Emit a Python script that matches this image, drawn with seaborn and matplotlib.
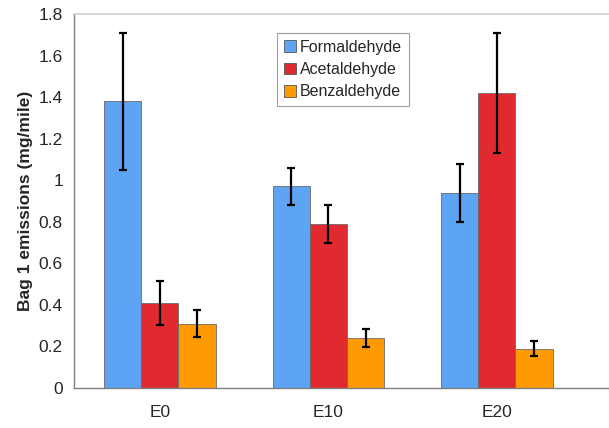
import seaborn as sns
import matplotlib.pyplot as plt
import pandas as pd

# Chart data
blends = ['E0', 'E10', 'E20']
compounds = ['Formaldehyde', 'Acetaldehyde', 'Benzaldehyde']
formaldehyde = [1.38, 0.97, 0.94]
acetaldehyde = [0.41, 0.79, 1.42]
benzaldehyde = [0.31, 0.24, 0.19]
formaldehyde_err = [0.33, 0.09, 0.14]
acetaldehyde_err = [0.105, 0.09, 0.29]
benzaldehyde_err = [0.065, 0.045, 0.035]
yticks = [0, 0.2, 0.4, 0.6, 0.8, 1, 1.2, 1.4, 1.6, 1.8]

colors = ['#5DA4F4', '#E12A30', '#FF9A05']

values = [formaldehyde, acetaldehyde, benzaldehyde]
errors = [formaldehyde_err, acetaldehyde_err, benzaldehyde_err]
df = pd.DataFrame({
    'Blend': blends * 3,
    'Compound': [c for c in compounds for _ in blends],
    'Value': [v for vals in values for v in vals],
})

sns.set_style('white')
plt.rcParams['font.family'] = ['Liberation Sans', 'DejaVu Sans']

fig = plt.figure(figsize=(6.09, 4.28), dpi=100)
ax = fig.add_axes([0.1215, 0.0935, 0.8785, 0.8738])

sns.barplot(data=df, x='Blend', y='Value', hue='Compound', order=blends,
            hue_order=compounds, palette=colors, width=0.66, gap=0,
            edgecolor='#6a6a6a', linewidth=0.6, errorbar=None, ax=ax,
            saturation=1)

# error bars centred on each bar
for cont, err in zip(ax.containers, errors):
    xs = [p.get_x() + p.get_width() / 2 for p in cont.patches]
    hs = [p.get_height() for p in cont.patches]
    ax.errorbar(xs, hs, yerr=err, fmt='none', ecolor='black',
                elinewidth=1.6, capsize=3, capthick=1.6, zorder=5)

ax.set_xlim(-0.51, 2.665)
ax.set_ylim(0, 1.8)
ax.set_yticks(yticks)
ax.set_yticklabels([f'{t:g}' for t in yticks])
ax.set_xticks([0, 1, 2])
ax.set_xticklabels(blends)
ax.set_xticks([-0.5, 0.5, 1.5], minor=True)
ax.tick_params(axis='x', which='major', length=0, pad=12, labelsize=12.5)
ax.tick_params(axis='x', which='minor', length=5, width=0.8, color='#888888', direction='out')
ax.tick_params(axis='y', length=5, width=0.8, color='#888888', direction='out', labelsize=12.5, pad=3)
ax.set_xlabel('')
ax.set_ylabel('Bag 1 emissions (mg/mile)', fontsize=12.5, fontweight='bold', labelpad=4)

for side in ['left', 'bottom']:
    ax.spines[side].set_color('#808080')
    ax.spines[side].set_linewidth(1)
ax.spines['top'].set_color('#d0d0d0')
ax.spines['top'].set_linewidth(1.2)
ax.spines['right'].set_visible(False)

leg = ax.legend(loc='upper left', bbox_to_anchor=(0.379, 0.95), frameon=True,
                fancybox=False, edgecolor='#888888', fontsize=11.5,
                handlelength=0.75, handleheight=0.75, handletextpad=0.25,
                borderpad=0.45, labelspacing=0.45, borderaxespad=0)
leg.get_frame().set_linewidth(0.8)
for h in leg.legend_handles:
    h.set_edgecolor('#555555')
    h.set_linewidth(0.6)

fig.savefig('out.png', dpi=100)
